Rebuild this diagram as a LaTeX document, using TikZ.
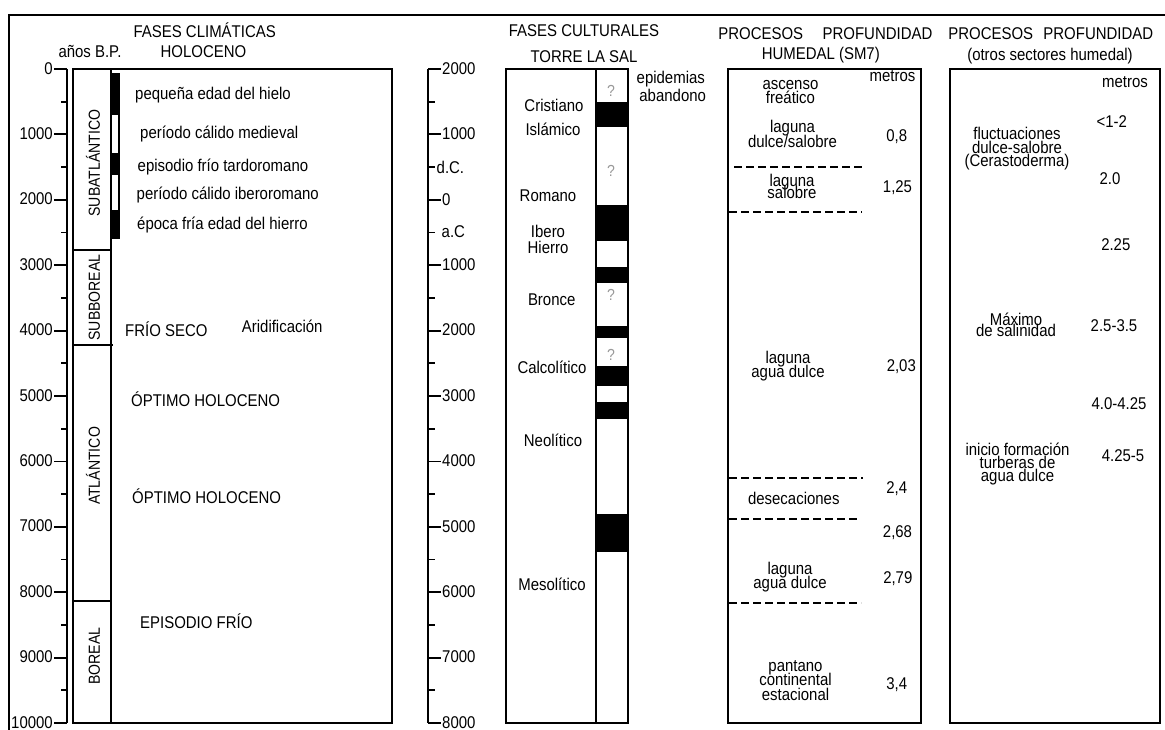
\documentclass[tikz,border=0pt]{standalone}
\usepackage{fontspec}
\setmainfont{Liberation Sans}[FakeStretch=0.88]
\usetikzlibrary{positioning}
\tikzset{
  lbl/.style={inner sep=0pt, text height=12pt, text depth=3.5pt, font=\fontsize{17}{20}\selectfont},
  vlbl/.style={lbl, rotate=90, font=\fontsize{16}{20}\selectfont},
  col/.style={line width=2pt},
  axtick/.style={line width=1.8pt},
  limite/.style={line width=1.7pt, dash pattern=on 8pt off 4pt},
  duda/.style={inner sep=0pt, text=black!40, font=\fontsize{16}{16}\selectfont},
}

\begin{document}
\begin{tikzpicture}[x=1pt,y=-1pt]
\useasboundingbox (0,0) rectangle (1165,730);
\draw[col] (9,730) -- (9,15) -- (1165,15);

% eje en anos B.P.
\draw[col] (67,69) -- (67,723);
\foreach \i in {0,...,10}{
  \pgfmathsetmacro\yy{69+65.4*\i}
  \pgfmathtruncatemacro\lab{1000*\i}
  \draw[axtick] (54,\yy) -- (67,\yy);
  \node[lbl, anchor=east] (bp\i) at (53,\yy+0.8) {\lab};
}
\foreach \i in {0,...,9}{
  \pgfmathsetmacro\yy{69+65.4*(\i+0.5)}
  \draw[axtick] (61,\yy) -- (67,\yy);
}
\node[lbl] (anosbp) at (90,53) {años B.P.};
\node[lbl] (climtit) at (204.7,33) {FASES CLIMÁTICAS};
\node[lbl] (holotit) at (203.5,53) {HOLOCENO};

% fases climaticas
\foreach \a/\b in {74/115,153/175,210/238} \fill (111,\a) rectangle (119,\b);
\draw[line width=1.2pt] (111,74) rectangle (119,238);
\draw[col] (73,69) rectangle (392,723);
\draw[col] (111,69) -- (111,723);
\draw[col] (73,250) -- (111,250) (73,345) -- (113,345) (73,601) -- (111,601);
\node[vlbl] (subat) at (95.5,163) {SUBATLÁNTICO};
\node[vlbl] (subbo) at (95.5,297.5) {SUBBOREAL};
\node[vlbl] (atlan) at (95.5,466) {ATLÁNTICO};
\node[vlbl] (boreal) at (95.5,656) {BOREAL};

\node[lbl, anchor=west] (hielo) at (135,95.75) {pequeña edad del hielo};
\node[lbl, anchor=west] (medieval) at (140,134) {período cálido medieval};
\node[lbl, anchor=west] (tardo) at (137.5,167.4) {episodio frío tardoromano};
\node[lbl, anchor=west] (ibero) at (136.5,195) {período cálido iberoromano};
\node[lbl, anchor=west] (hierro) at (137,225.75) {época fría edad del hierro};
\node[lbl, anchor=west] (frioseco) at (125,331.75) {FRÍO SECO};
\node[lbl, anchor=west] (arid) at (241.7,328.4) {Aridificación};
\node[lbl, anchor=west] (optA) at (131,401.75) {ÓPTIMO HOLOCENO};
\node[lbl, anchor=west] (optB) at (132,499) {ÓPTIMO HOLOCENO};
\node[lbl, anchor=west] (epfrio) at (140,624) {EPISODIO FRÍO};

% eje a.C. / d.C.
\draw[col] (428,69) -- (428,723);
\foreach \i in {0,...,10}{
  \pgfmathsetmacro\yy{69+65.4*\i}
  \pgfmathtruncatemacro\lab{abs(2000-1000*\i)}
  \draw[axtick] (428,\yy) -- (441,\yy);
  \node[lbl, anchor=west] (cal\i) at (442,\yy+1) {\lab};
}
\foreach \i in {0,...,9}{
  \pgfmathsetmacro\yy{69+65.4*(\i+0.5)}
  \draw[axtick] (428,\yy) -- (435,\yy);
}
\node[lbl, anchor=west] (dC) at (436.5,169) {d.C.};
\node[lbl, anchor=west] (aC) at (441.5,233) {a.C};

% fases culturales
\node[lbl] (culttit) at (584,32.4) {FASES CULTURALES};
\node[lbl] (torretit) at (584,58.4) {TORRE LA SAL};
\foreach \a/\b in {102/127,205/241,267/283,326/338,366/386,402/419,514/552} \fill (596,\a) rectangle (628,\b);
\draw[col] (506,69) rectangle (628,723);
\draw[col] (596,69) -- (596,723);
\node[duda] (q1) at (611,91) {?};
\node[duda] (q2) at (611,171) {?};
\node[duda] (q3) at (611,295) {?};
\node[duda] (q4) at (611,355) {?};
\node[lbl] (crist) at (554,107.5) {Cristiano};
\node[lbl] (islam) at (553,131) {Islámico};
\node[lbl] (romano) at (548,197.5) {Romano};
\node[lbl] (iber) at (548,233) {Ibero};
\node[lbl] (hier) at (548,249) {Hierro};
\node[lbl] (bronce) at (551.7,301) {Bronce};
\node[lbl] (calco) at (552,369) {Calcolítico};
\node[lbl] (neol) at (553,442.5) {Neolítico};
\node[lbl] (mesol) at (552,586.5) {Mesolítico};
\node[lbl] (epid) at (670.8,79) {epidemias};
\node[lbl] (aband) at (672.7,97.5) {abandono};

% humedal SM7
\node[lbl] (proc1) at (760.8,35.75) {PROCESOS};
\node[lbl] (prof1) at (877.5,35.75) {PROFUNDIDAD};
\node[lbl] (humtit) at (820.8,55) {HUMEDAL (SM7)};
\draw[col] (728,69) rectangle (921,723);
\draw[limite] (734,167) -- (862,167);
\draw[limite] (729,212) -- (862,212);
\draw[limite] (729,478) -- (863,478);
\draw[limite] (729,519) -- (857,519);
\draw[limite] (729,603) -- (861,603);
\node[lbl] (met1) at (892.5,77.4) {metros};
\node[lbl] (asc) at (790.5,85.75) {ascenso};
\node[lbl, below=-2.8pt of asc] (freat) {freático};
\node[lbl] (lagA) at (792.5,128.75) {laguna};
\node[lbl, below=-1.5pt of lagA] (dulsal) {dulce/salobre};
\node[lbl] (p08) at (896.7,137.4) {0,8};
\node[lbl] (lagB) at (792,182.4) {laguna};
\node[lbl, below=-4.5pt of lagB] (salob) {salobre};
\node[lbl] (p125) at (897.5,188) {1,25};
\node[lbl] (lagC) at (788,359) {laguna};
\node[lbl, below=-1.5pt of lagC] (aguaC) {agua dulce};
\node[lbl] (p203) at (901.3,367.5) {2,03};
\node[lbl] (p24) at (896.7,489.7) {2,4};
\node[lbl] (desec) at (793.8,500.7) {desecaciones};
\node[lbl] (p268) at (897.5,533.4) {2,68};
\node[lbl] (lagD) at (790,569.75) {laguna};
\node[lbl, below=-1.2pt of lagD] (aguaD) {agua dulce};
\node[lbl] (p279) at (897.8,579.7) {2,79};
\node[lbl] (pant) at (795.5,666.75) {pantano};
\node[lbl, below=-1.3pt of pant] (conti) {continental};
\node[lbl, below=-1.3pt of conti] (estac) {estacional};
\node[lbl] (p34) at (896.7,685.7) {3,4};

% otros sectores del humedal
\node[lbl] (proc2) at (990.8,35.75) {PROCESOS};
\node[lbl] (prof2) at (1098.3,35.75) {PROFUNDIDAD};
\node[lbl] (otrostit) at (1050,56.4) {(otros sectores humedal)};
\draw[col] (950,69) rectangle (1160,723);
\node[lbl] (met2) at (1125,83) {metros};
\node[lbl] (r12) at (1111.7,123) {<1-2};
\node[lbl] (fluct) at (1017,135.75) {fluctuaciones};
\node[lbl, below=-2.5pt of fluct] (dulsal2) {dulce-salobre};
\node[lbl, below=-2.5pt of dulsal2] (ceras) {(Cerastoderma)};
\node[lbl] (r20) at (1110,180.7) {2.0};
\node[lbl] (r225) at (1115.8,246.4) {2.25};
\node[lbl] (maxi) at (1016,320.75) {Máximo};
\node[lbl, below=-4.5pt of maxi] (salin) {de salinidad};
\node[lbl] (r2535) at (1114,327.4) {2.5-3.5};
\node[lbl] (r40) at (1119,405.7) {4.0-4.25};
\node[lbl] (inicio) at (1017.5,450.75) {inicio formación};
\node[lbl, below=-2.5pt of inicio] (turb) {turberas de};
\node[lbl, below=-2.5pt of turb] (aguaE) {agua dulce};
\node[lbl] (r425) at (1123,457.4) {4.25-5};
\end{tikzpicture}
\end{document}
